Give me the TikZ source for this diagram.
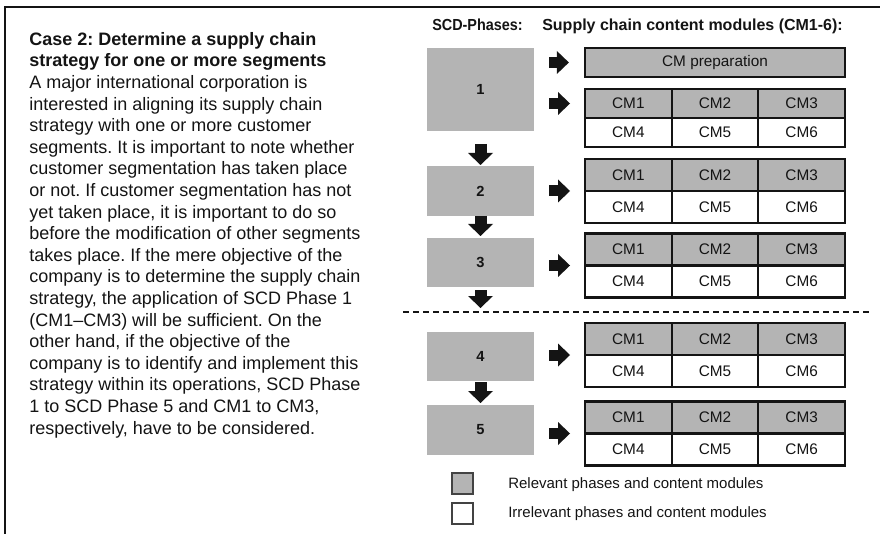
\documentclass[tikz,border=0pt]{standalone}
\usepackage{fontspec}
\setmainfont{Liberation Sans}
\usepackage{graphicx}
\usetikzlibrary{arrows.meta}
\frenchspacing

\definecolor{relgray}{RGB}{180,180,180}
\definecolor{ink}{RGB}{20,20,20}

% one content-module table: #1 name, #2 y of the middle line (px), #3 row height (pt), #4 row offset (px)
\newcommand\cmtable[4]{%
  \foreach \lab [count=\i] in {CM1,CM2,CM3}
    \node[cmcell, fill=relgray] (#1-\i) at ({585+86.667*\i-43.333}, {#2-#4}) {\lab};
  \foreach \lab [count=\i from 4] in {CM4,CM5,CM6}
    \node[cmcell, fill=white] (#1-\i) at ({585+86.667*(\i-3)-43.333}, {#2+#4}) {\lab};
}

\begin{document}
\begin{tikzpicture}[x=0.75pt, y=-0.75pt,
  phase/.style={fill=relgray, inner sep=0pt, outer sep=0pt, minimum width=80.25pt,
    font=\fontsize{11}{13}\selectfont\bfseries, text=ink},
  cmcell/.style={draw=ink, line width=1.7pt, inner sep=0pt, outer sep=0pt,
    minimum width=65pt, minimum height=\cmrowh, font=\fontsize{11.5}{13}\selectfont, text=ink},
  rarrow/.style={draw=ink, line width=8.25pt,
    -{Triangle[width=17.25pt, length=9pt, line width=0pt]}},
  darrow/.style={draw=ink, line width=9pt,
    -{Triangle[width=18.75pt, length=9pt, line width=0pt]}},
  legbox/.style={draw=ink!80, line width=0.8pt, minimum size=15.75pt, inner sep=0pt},
  legtext/.style={anchor=base west, inner sep=0pt, font=\fontsize{11.25}{13}\selectfont, text=ink},
]
\useasboundingbox (0,0) rectangle (880,534);

% frame
\draw[ink, line width=0.8pt] (5,534) -- (5,7) -- (880,7);

% case description
\node[anchor=north west, inner sep=0pt, align=left, text=ink,
      font=\fontsize{13.5}{16.2}\selectfont] (case) at (29,32)
{\textbf{Case 2: Determine a supply chain}\\
 \textbf{strategy for one or more segments}\\
 A major international corporation is\\
 interested in aligning its supply chain\\
 strategy with one or more customer\\
 segments. It is important to note whether\\
 customer segmentation has taken place\\
 or not. If customer segmentation has not\\
 yet taken place, it is important to do so\\
 before the modification of other segments\\
 takes place. If the mere objective of the\\
 company is to determine the supply chain\\
 strategy, the application of SCD Phase 1\\
 (CM1--CM3) will be sufficient. On the\\
 other hand, if the objective of the\\
 company is to identify and implement this\\
 strategy within its operations, SCD Phase\\
 1 to SCD Phase 5 and CM1 to CM3,\\
 respectively, have to be considered.};

% headings
\node[anchor=base west, inner sep=0pt, font=\fontsize{12}{14}\selectfont\bfseries, text=ink]
  (hphase) at (432,31) {\scalebox{0.9}[1]{SCD-Phases:}};
\node[anchor=base west, inner sep=0pt, font=\fontsize{12}{14}\selectfont\bfseries, text=ink]
  (hcm) at (542,31) {Supply chain content modules (CM1-6):};

% phases
\node[phase, minimum height=62.25pt] (p1) at (480.5,89.5) {1};
\node[phase, minimum height=37.5pt]  (p2) at (480.5,191) {2};
\node[phase, minimum height=36.75pt] (p3) at (480.5,262.5) {3};
\node[phase, minimum height=36.75pt] (p4) at (480.5,356.5) {4};
\node[phase, minimum height=37.5pt]  (p5) at (480.5,430) {5};

% content modules
\node[draw=ink, line width=1.7pt, fill=relgray, inner sep=0pt, minimum width=195pt,
      minimum height=21.75pt, font=\fontsize{11.5}{13}\selectfont, text=ink]
  (prep) at (715,62.5) {CM preparation};
\def\cmrowh{21.75pt}
\cmtable{t1}{118}{21.75pt}{14.5}
\def\cmrowh{24pt}
\cmtable{t2}{191}{24pt}{16}
\cmtable{t3}{265.5}{24pt}{16}
\cmtable{t4}{355}{24pt}{16}
\cmtable{t5}{433.5}{24pt}{16}

% phase sequence
\draw[darrow, shorten <=9.75pt, shorten >=0.75pt] (p1.south) -- (p2.north);
\draw[darrow, shorten <=0pt, shorten >=1.5pt] (p2.south) -- (p3.north);
\draw[darrow, shorten <=2.25pt, shorten >=18pt] (p3.south) -- (p4.north);
\draw[darrow, shorten <=0.75pt, shorten >=1.5pt] (p4.south) -- (p5.north);

% phases to content modules
\draw[rarrow, shorten <=11.25pt, shorten >=11.25pt] (p1.east |- prep.west) -- (prep.west);
\draw[rarrow, shorten <=11.25pt, shorten >=11.25pt] (p1.east |- t1-1.west) -- (t1-1.west);
\draw[rarrow, shorten <=11.25pt, shorten >=11.25pt] (p2.east |- t2-1.south west) -- (t2-1.south west);
\draw[rarrow, shorten <=11.25pt, shorten >=11.25pt] (p3.east |- t3-1.south west) -- (t3-1.south west);
\draw[rarrow, shorten <=11.25pt, shorten >=11.25pt] (p4.east |- t4-1.south west) -- (t4-1.south west);
\draw[rarrow, shorten <=11.25pt, shorten >=11.25pt] (p5.east |- t5-1.south west) -- (t5-1.south west);

% separator
\draw[ink, line width=0.8pt, dash pattern=on 4.5pt off 3pt] (403,312) -- (870,312);

% legend
\node[legbox, fill=relgray] (lrel) at (462.5,483.5) {};
\node[legbox, fill=white] (lirr) at (462.5,513.5) {};
\node[legtext] (trel) at (508,488) {Relevant phases and content modules};
\node[legtext] (tirr) at (508,517) {Irrelevant phases and content modules};
\end{tikzpicture}
\end{document}
